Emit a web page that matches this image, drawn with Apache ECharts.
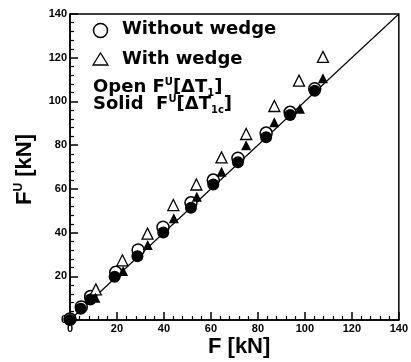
<!DOCTYPE html>
<html>
<head>
<meta charset="utf-8">
<script src="https://cdn.jsdelivr.net/npm/echarts@6/dist/echarts.min.js"></script>
<style>
  html, body { margin: 0; padding: 0; background: #fff; }
  #main { width: 411px; height: 362px; }
</style>
</head>
<body>
<div id="main"></div>
<script>
// F [kN] vs F^U [kN]
const withoutOpen = [[0, 0.5], [4.8, 6], [8.8, 10.8], [19.5, 21.8], [29, 32], [39.6, 42.4], [51.5, 53.6], [61, 64], [71.5, 74], [83.5, 85.5], [93.7, 95], [104.2, 105.8]];
const withoutSolid = [[0, 0], [4.6, 5.2], [8.7, 9.4], [19, 19.8], [28.7, 29.2], [39.7, 40], [51.5, 51.4], [61, 62], [71.5, 72.2], [83.5, 83.6], [93.7, 93.8], [104.2, 104.9]];
const withOpen = [[11, 14], [22.3, 27.3], [33, 39.5], [44, 52.6], [53.8, 62], [64.5, 74.4], [75, 85.1], [87, 97.9], [97.5, 109.5], [107.7, 120.4]];
const withSolid = [[10.8, 10.2], [22.6, 22.4], [33.1, 34.3], [44.2, 46.5], [54, 56.4], [64.5, 67.8], [75, 80], [87, 90.5], [97.9, 96.6], [107.7, 110.6]];
const diagonal = [[0, 0], [140, 140]];

const chart = echarts.init(document.getElementById('main'));
const font = 'Liberation Sans, Arial, sans-serif';
const legFont = 'DejaVu Sans, sans-serif';

const axisCommon = {
  min: 0,
  max: 140,
  interval: 20,
  axisLine: { show: true, onZero: false, lineStyle: { color: '#000', width: 1.5 } },
  axisTick: { show: true, inside: true, length: 8, lineStyle: { color: '#000', width: 1.5 } },
  minorTick: { show: true, splitNumber: 5, length: 4, lineStyle: { color: '#000', width: 1.2 } },
  splitLine: { show: false },
  axisLabel: { color: '#000', fontFamily: font, fontWeight: 'bold', fontSize: 11, margin: 3 }
};

const legendRich = {
  n: { fontFamily: legFont, fontWeight: 'bold', fontSize: 18, color: '#000' },
  s: { fontFamily: legFont, fontWeight: 'bold', fontSize: 10, color: '#000', padding: [0, 0, 11, 0] },
  b: { fontFamily: legFont, fontWeight: 'bold', fontSize: 10, color: '#000', padding: [11, 0, 0, 0] }
};

const option = {
  backgroundColor: '#fff',
  animation: false,
  grid: { left: 70, right: 8, top: 14, bottom: 42, show: true, borderColor: '#000', borderWidth: 1.5 },
  xAxis: Object.assign({ type: 'value' }, axisCommon),
  yAxis: Object.assign({ type: 'value' }, axisCommon),
  graphic: [
    {
      type: 'circle', shape: { cx: 100.5, cy: 30.5, r: 7 },
      style: { fill: '#fff', stroke: '#000', lineWidth: 1.5 }, z: 10
    },
    {
      type: 'polygon', shape: { points: [[93, 65], [108, 65], [100.5, 53]] },
      style: { fill: '#fff', stroke: '#000', lineWidth: 1.3 }, z: 10
    },
    {
      type: 'text', x: 122, y: 20,
      style: { text: 'Without wedge', font: 'bold 18px ' + legFont, fill: '#000' }, z: 10
    },
    {
      type: 'text', x: 122, y: 50,
      style: { text: 'With wedge', font: 'bold 18px ' + legFont, fill: '#000' }, z: 10
    },
    {
      type: 'text', x: 93, y: 77,
      style: { text: '{n|Open F}{s|U}{n|[\u0394T}{b|1}{n|]}', rich: legendRich }, z: 10
    },
    {
      type: 'text', x: 93, y: 94,
      style: { text: '{n|Solid  F}{s|U}{n|[\u0394T}{b|1c}{n|]}', rich: legendRich }, z: 10
    },
    {
      type: 'text', x: 208, y: 336,
      style: { text: 'F [kN]', font: 'bold 22px ' + font, fill: '#000' }
    },
    {
      type: 'text', x: 13, y: 205, rotation: Math.PI / 2,
      style: {
        text: '{n|F}{s|U}{n| [kN]}',
        rich: {
          n: { fontFamily: font, fontWeight: 'bold', fontSize: 22, color: '#000' },
          s: { fontFamily: font, fontWeight: 'bold', fontSize: 12, color: '#000', padding: [0, 0, 12, 0] }
        }
      }
    }
  ],
  series: [
    {
      type: 'line', data: diagonal, showSymbol: false, silent: true,
      lineStyle: { color: '#000', width: 1.2 }, z: 1
    },
    {
      type: 'scatter', data: withoutOpen, symbol: 'circle', symbolSize: 12,
      itemStyle: { color: '#fff', borderColor: '#000', borderWidth: 1.5, opacity: 1 }, z: 2
    },
    {
      type: 'scatter', data: withoutSolid, symbol: 'circle', symbolSize: 12,
      itemStyle: { color: '#000', opacity: 1 }, z: 3
    },
    {
      type: 'scatter', data: withOpen, symbol: 'triangle', symbolSize: 11,
      itemStyle: { color: '#fff', borderColor: '#000', borderWidth: 1.3, opacity: 1 }, z: 4
    },
    {
      type: 'scatter', data: withSolid, symbol: 'triangle', symbolSize: 10,
      itemStyle: { color: '#000', opacity: 1 }, z: 5
    }
  ]
};

chart.setOption(option);
</script>
</body>
</html>
